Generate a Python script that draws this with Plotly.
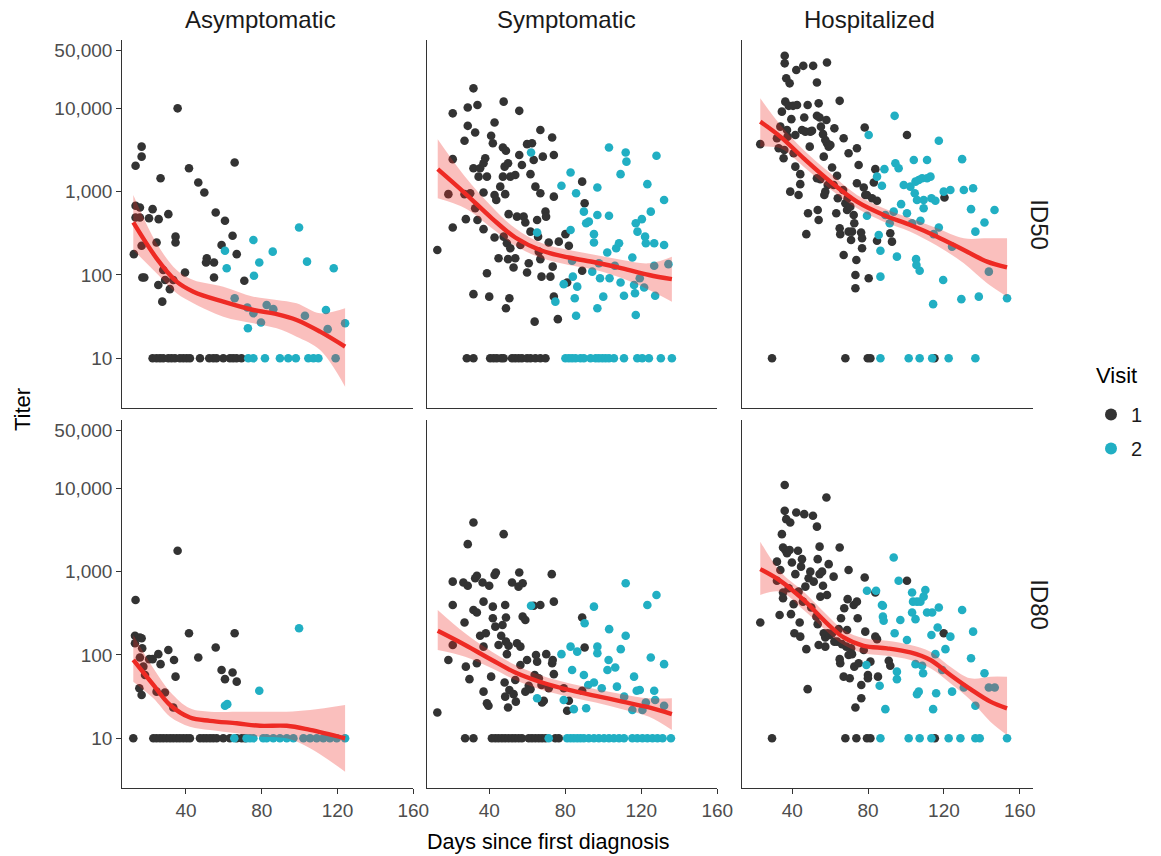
import plotly.graph_objects as go

W, H = 1161, 856
DARK = "#333333"
TEAL = "#21AFC3"
RED = "#EE2A24"
BAND = "rgba(238,42,36,0.30)"
FONT = "Liberation Sans, Arial, sans-serif"

groups = ["Asymptomatic", "Symptomatic", "Hospitalized"]
measures = ["ID50", "ID80"]
visits = ["1", "2"]
legend_title = "Visit"
y_tick_vals = [10, 100, 1000, 10000, 50000]
y_tick_text = ["10", "100", "1,000", "10,000", "50,000"]
x_tick_vals = [40, 80, 120, 160]

# ---------------- data (days, log10 titer) ----------------
# Asymptomatic / ID50
asym50_v1_day = [12.5, 13.4, 13.4, 13.4, 15.7, 16.6, 16.6, 15.7, 16.6, 17, 18, 20.5, 22.4, 24.5, 25.4,
                 25.6, 26.6, 27.5, 28, 29, 30.7, 31.5, 33.3, 34.5, 34.5, 35.6, 39.5, 41.6, 46.5, 49.7,
                 51, 50.6, 54.8, 54.8, 55.7, 60.6, 58.8, 64.6, 65.7, 66.8, 70.8,
                 22.4, 24.5, 26.3, 28, 30.7, 32.4, 34.2, 36.8, 38.6, 40.4, 42.1, 47.4, 52.3, 54.4,
                 56.1, 59.7, 63.2, 64.9, 66.7, 69.3]
asym50_v1_log = [2.25, 3.31, 2.83, 2.69, 2.81, 3.54, 3.42, 2.69, 2.35, 1.97, 1.97, 2.68, 2.79, 2.39, 1.88,
                 2.67, 3.16, 1.68, 2.06, 1.94, 2.73, 1.83, 1.94, 2.46, 2.39, 4.0, 2.03, 3.28, 3.11, 2.99,
                 2.2, 2.15, 2.15, 1.97, 2.75, 2.65, 2.36, 2.47, 3.35, 2.25, 1.93,
                 1, 1, 1, 1, 1, 1, 1, 1, 1, 1, 1, 1, 1, 1, 1, 1, 1, 1, 1, 1]
asym50_v2_day = [60.6, 61.5, 65.7, 72.4, 72.7, 75.6, 75.9, 75.6, 78.7, 79.6, 82.6, 85.8, 86.1, 99.7, 102.8,
                 103.9, 113.9, 114.8, 118, 124,
                 72.9, 75.6, 81.7, 89.6, 94, 98, 104.6, 107.3, 109.9, 119]
asym50_v2_log = [2.29, 2.08, 1.72, 1.61, 1.36, 2.42, 1.99, 1.54, 2.15, 1.43, 1.64, 2.28, 1.59, 2.57, 1.51,
                 2.16, 1.58, 1.35, 2.08, 1.42,
                 1, 1, 1, 1, 1, 1, 1, 1, 1, 1]
asym50_fit_day = [12.2, 24.5, 35.1, 43.9, 59.7, 75.6, 87.9, 98.4, 110.8, 124]
asym50_fit_mid = [2.63, 2.2, 1.92, 1.8, 1.68, 1.58, 1.53, 1.46, 1.32, 1.14]
asym50_fit_hi = [2.96, 2.38, 2.06, 1.94, 1.86, 1.74, 1.7, 1.66, 1.54, 1.6]
asym50_fit_lo = [2.30, 2.02, 1.78, 1.66, 1.5, 1.42, 1.36, 1.26, 1.1, 0.66]

# Symptomatic / ID50
sym50_v1_day = [12.7, 18.5, 20.8, 20.8, 20.8, 27, 27, 27.7, 28.7, 28.7, 30, 31.7, 31.7, 31.7, 32.6,
                32.6, 33.8, 33.8, 34.4, 35.2, 37, 37, 37, 37.9, 38.8, 38.8, 40, 41, 41.9, 42.8,
                42.8, 42.8, 43.7, 44.9, 45.8, 47.2, 47.2, 47.6, 47.6, 48.1, 48.4, 48.8, 48.8, 49.3, 49.9,
                49.9, 50.2, 50.6, 51.1, 51.1, 52.8, 53.7, 53.7, 54.6, 55.8, 55.8, 56.4, 57.2, 58.1, 59,
                59.9, 59.9, 60.8, 61.7, 61.7, 62.5, 63.4, 63.9, 64.3, 65.2, 65.7, 66.1, 66.9, 66.9, 66.9,
                67.5, 68.2, 69.6, 69.9, 71.3, 72.2, 73.1, 73.4, 74, 74, 74, 76.1, 76.6, 80.1, 81,
                81.9, 88.9, 88.9, 90.2,
                28.2, 31.7, 40.5, 42.3, 44.0, 46.3, 47.6, 52, 53.7, 55.5, 57.2, 59.9, 61.7, 64.3, 66.9, 69.6]
sym50_v1_log = [2.3, 2.97, 3.94, 3.39, 2.57, 3.61, 2.97, 2.67, 4.01, 3.79, 2.98, 4.24, 3.28, 1.77, 3.71,
                2.8, 4.04, 2.66, 3.18, 3.28, 3.34, 2.99, 2.55, 3.4, 3.18, 2.02, 1.74, 3.67, 3.58, 3.83,
                2.96, 2.45, 2.9, 2.2, 3.06, 3.53, 3.18, 4.08, 2.46, 3.3, 2.97, 3.49, 1.6, 2.38, 3.34,
                2.19, 2.73, 1.72, 3.18, 2.32, 2.09, 2.2, 3.2, 2.7, 3.97, 3.44, 2.36, 3.32, 2.7, 2.63,
                3.57, 2.03, 2.14, 3.21, 2.52, 3.58, 3.38, 1.44, 3.06, 2.66, 2.46, 2.28, 3.74, 2.98, 2.19,
                1.98, 3.42, 2.76, 2.7, 2.39, 1.98, 3.65, 2.1, 3.44, 2.94, 1.74, 1.47, 2.4, 2.49, 1.91,
                2.35, 3.12, 2.05, 2.86,
                1, 1, 1, 1, 1, 1, 1, 1, 1, 1, 1, 1, 1, 1, 1, 1]
sym50_v2_day = [62, 65.2, 74.8, 78, 79.2, 82.8, 82.8, 83.6, 84, 85, 85.7, 85.7, 86.3, 89.8, 91,
                92.4, 94.2, 95.1, 95.1, 96.9, 96.9, 96.9, 97.7, 98.3, 100, 102.1, 103, 103, 103.3, 106.1,
                106.8, 108.3, 109.1, 109.1, 110.9, 111.8, 112.2, 115.3, 116.2, 116.7, 117.1, 117.1, 118, 119.2, 120.3,
                121.5, 122, 122.4, 123.2, 125, 126.8, 126.8, 127.3, 128, 132, 132, 134.3,
                80.1, 81.9, 83.6, 85.4, 88, 89.8, 93.3, 96, 97.7, 99.5, 101.2, 103, 105.6, 110.9, 117.9,
                120.5, 124, 130.3, 136.1]
sym50_v2_log = [3.47, 2.51, 1.68, 3.07, 1.89, 3.23, 2.54, 2.17, 1.98, 1.72, 2.98, 1.51, 1.86, 2.76, 2.62,
                2.64, 2.04, 2.49, 2.39, 3.05, 2.72, 1.6, 2.14, 1.96, 1.74, 2.27, 3.53, 2.71, 1.96, 2.11,
                2.32, 2.38, 3.21, 1.91, 1.75, 3.47, 3.36, 2.21, 1.88, 1.78, 2.62, 1.52, 2.52, 1.96, 2.67,
                1.85, 2.46, 2.38, 3.09, 2.76, 2.38, 2.11, 1.75, 3.43, 2.9, 2.36, 2.13,
                1, 1, 1, 1, 1, 1, 1, 1, 1, 1, 1, 1, 1, 1, 1, 1, 1, 1, 1]
sym50_fit_day = [12.9, 27.3, 41.4, 53.7, 67.8, 81.9, 96, 110, 124.1, 136.1]
sym50_fit_mid = [3.27, 2.98, 2.68, 2.45, 2.29, 2.21, 2.15, 2.08, 2.0, 1.95]
sym50_fit_hi = [3.63, 3.18, 2.82, 2.56, 2.38, 2.3, 2.24, 2.18, 2.14, 2.22]
sym50_fit_lo = [2.92, 2.8, 2.56, 2.35, 2.2, 2.12, 2.06, 1.96, 1.82, 1.68]

# Hospitalized / ID50
hosp50_v1_day = [23.1, 31.9, 32.8, 33.7, 34.5, 35.4, 35.8, 36, 36, 36.3, 36.8, 37.2, 37.5, 38.1, 38.6,
                 38.9, 39.5, 40.4, 40.7, 41.6, 41.6, 42.1, 42.5, 43.3, 44.2, 44.2, 45.1, 45.8, 46.3, 46.9,
                 47.4, 48.1, 48.3, 49.2, 49.5, 50.4, 51, 53, 53, 53, 53.4, 53.9, 53.9, 54.4, 54.8,
                 55.1, 56.2, 56.6, 56.9, 57.4, 57.4, 58, 58.3, 58.3, 58.7, 59.2, 60.1, 61, 61.8, 62.2,
                 63.2, 63.6, 64, 65, 65, 65.3, 66.8, 67.1, 67.1, 68, 68.9, 69.2, 69.7, 69.7, 70.6,
                 71, 71.5, 72.4, 72.7, 73.3, 73.3, 73.8, 74.1, 74.1, 75, 76.3, 76.8, 76.8, 77.7, 78.2,
                 78.5, 79.4, 80.3, 82.1, 83, 83.8, 84.7, 84.7, 91.7, 92.6, 100.5, 120.3,
                 29.3, 68, 79.8, 81.2, 115]
hosp50_v1_log = [3.57, 3.64, 3.52, 3.78, 3.96, 3.4, 3.5, 4.63, 4.54, 4.08, 4.36, 3.74, 3.66, 4.03, 4.3,
                 3.0, 3.87, 4.03, 3.46, 3.68, 3.3, 4.46, 4.04, 2.96, 3.21, 3.09, 3.74, 4.51, 3.89, 3.72,
                 2.49, 4.04, 2.74, 3.54, 3.72, 3.73, 4.51, 4.31, 3.91, 3.16, 2.78, 4.06, 2.66, 3.89, 3.15,
                 3.78, 3.69, 3.42, 2.96, 3.62, 3.0, 3.86, 4.55, 3.58, 3.08, 3.54, 3.56, 3.29, 3.08, 3.76,
                 2.74, 3.19, 2.92, 2.56, 4.09, 2.49, 3.02, 3.64, 2.24, 2.86, 2.78, 2.92, 3.46, 2.52, 2.82,
                 2.42, 2.52, 2.72, 2.62, 2.0, 1.84, 2.18, 3.52, 3.1, 3.32, 2.51, 2.44, 2.32, 3.05, 3.77,
                 2.96, 2.96, 1.96, 2.92, 3.11, 3.27, 2.89, 2.41, 2.5, 2.4, 3.68, 2.93,
                 1, 1, 1, 1, 1]
hosp50_v2_day = [79.4, 80.3, 84.7, 85.6, 86.5, 86.5, 87.3, 88.6, 89.1, 91.4, 93.5, 94, 94.4, 95.2, 96.1,
                 97.4, 98.8, 100.5, 102.3, 103.2, 104.1, 104.6, 105, 105.3, 105.5, 105.8, 106.7, 107.2, 107.6, 108.5,
                 109.3, 109.3, 111.1, 111.1, 112.9, 113.4, 114.3, 114.6, 115.5, 117.3, 117.3, 119.6, 119.9, 123.4, 124.3,
                 129.2, 129.6, 130.5, 134.3, 135.4, 136.6, 138.4, 141.4, 143.7, 146.7, 153.3,
                 86.5, 101.4, 107.2, 113.8, 122.5, 136.6]
hosp50_v2_log = [2.71, 3.68, 3.18, 2.48, 2.29, 1.98, 3.07, 3.27, 2.72, 2.62, 2.76, 3.91, 3.34, 2.22, 3.28,
                 2.85, 3.08, 2.74, 3.06, 2.62, 3.38, 2.98, 3.12, 2.19, 2.12, 2.9, 3.14, 2.05, 2.65, 3.16,
                 2.9, 2.8, 3.38, 3.16, 3.18, 2.92, 1.65, 2.49, 2.89, 2.57, 3.61, 1.94, 3.0, 3.02, 2.34,
                 1.71, 3.39, 3.02, 2.79, 3.04, 2.52, 1.74, 2.63, 2.04, 2.78, 1.72,
                 1, 1, 1, 1, 1, 1]
hosp50_fit_day = [23.1, 33.7, 46, 60.1, 74.1, 88.2, 102.3, 116.4, 130.5, 142.8, 153.3]
hosp50_fit_mid = [3.84, 3.66, 3.4, 3.12, 2.88, 2.72, 2.6, 2.46, 2.3, 2.16, 2.09]
hosp50_fit_hi = [4.12, 3.8, 3.5, 3.22, 2.96, 2.8, 2.68, 2.56, 2.44, 2.44, 2.44]
hosp50_fit_lo = [3.54, 3.52, 3.3, 3.03, 2.8, 2.64, 2.52, 2.35, 2.14, 1.9, 1.74]

# Asymptomatic / ID80
asym80_v1_day = [13.4, 13.1, 13.1, 15.7, 16.6, 16.9, 15.7, 17.5, 18.4, 15.4, 16.6, 20.6, 22.4, 24.5, 25.4,
                 26.6, 28.9, 30.7, 33.3, 33.7, 34.5, 35.6, 41.6, 46.5, 55.7, 58.8, 60.6, 64.6, 65.7, 66.8,
                 12.2, 22.8, 24.5, 26.3, 28, 29.8, 31.6, 33.3, 35.1, 36.8, 38.6, 40.4, 42.1, 47.4, 49.2,
                 50.9, 52.7, 54.4, 56.2, 59.7, 63.2, 66.8, 69.4, 71.2]
asym80_v1_log = [2.66, 2.23, 2.14, 2.21, 2.2, 2.08, 1.97, 1.86, 1.76, 1.6, 1.52, 1.95, 1.95, 1.56, 2.01,
                 1.89, 1.55, 2.06, 1.37, 1.94, 1.74, 3.25, 2.26, 1.97, 2.09, 1.82, 1.71, 1.79, 2.26, 1.68,
                 1, 1, 1, 1, 1, 1, 1, 1, 1, 1, 1, 1, 1, 1, 1,
                 1, 1, 1, 1, 1, 1, 1, 1, 1]
asym80_v2_day = [60.6, 61.8, 78.7, 99.7,
                 65.5, 72, 73.8, 75.6, 80.8, 82.6, 86.1, 89.6, 93.2, 96.7, 102, 105.5, 109, 112.5, 116,
                 119.6, 124]
asym80_v2_log = [1.39, 1.41, 1.57, 2.32,
                 1, 1, 1, 1, 1, 1, 1, 1, 1, 1, 1, 1, 1, 1, 1, 1, 1]
asym80_fit_day = [12.2, 22.8, 31.6, 42.1, 52.7, 66.8, 79.1, 93.2, 105.5, 124]
asym80_fit_mid = [1.94, 1.64, 1.4, 1.25, 1.21, 1.18, 1.15, 1.15, 1.1, 1.0]
asym80_fit_hi = [2.24, 1.84, 1.56, 1.36, 1.32, 1.32, 1.32, 1.32, 1.34, 1.4]
asym80_fit_lo = [1.68, 1.48, 1.26, 1.14, 1.1, 1.06, 1.02, 1.0, 0.88, 0.6]

# Symptomatic / ID80
sym80_v1_day = [12.7, 18.5, 20.8, 20.8, 20.8, 26.4, 27, 27.7, 28.7, 28.7, 29.6, 31.7, 31.7, 32.6, 33.5,
                33.5, 33.5, 35.2, 36.5, 37, 37, 37, 38.2, 38.8, 39.6, 40, 41, 41.9, 41.9, 42.8,
                43.2, 43.5, 44.9, 46.3, 47, 47.6, 48.1, 48.4, 48.4, 48.8, 48.8, 49.3, 49.9, 50.2, 50.6,
                52, 52.8, 53.7, 54, 54.6, 55.4, 55.8, 56.4, 56.4, 57.6, 57.6, 59, 59, 59.9, 60.8,
                61.7, 63.4, 63.9, 64.6, 65.2, 66.1, 66.9, 67.5, 67.8, 68.7, 70, 71.3, 72.9, 73.1, 73.4,
                74, 74, 79.2, 81, 81.9, 88.9, 90.2, 88.9,
                27.3, 31.7, 41.4, 43.2, 44.9, 46.7, 48.4, 50.2, 52, 53.7, 55.5, 57.2, 60.8, 62.5, 64.3,
                66.1, 67.8, 69.6, 74.8, 76.6]
sym80_v1_log = [1.31, 1.94, 2.88, 2.6, 2.12, 2.87, 2.39, 1.86, 3.33, 2.83, 1.71, 3.59, 2.54, 2.92, 2.95,
                2.51, 1.9, 2.23, 2.87, 2.64, 2.1, 1.56, 2.26, 1.42, 1.39, 2.83, 1.74, 2.58, 2.44, 2.96,
                2.34, 2.99, 2.12, 2.23, 2.36, 3.45, 1.67, 2.6, 1.5, 2.45, 2.16, 2.01, 1.37, 2.11, 1.58,
                2.87, 1.53, 1.7, 1.44, 2.14, 2.82, 2.99, 2.1, 1.88, 2.86, 2.46, 2.42, 1.56, 1.94, 1.63,
                1.59, 2.59, 1.76, 2.0, 1.92, 1.72, 2.6, 1.64, 1.43, 1.45, 2.01, 1.6, 2.97, 1.9, 1.94,
                2.64, 1.77, 1.6, 1.33, 1.45, 2.45, 2.09, 1.57,
                1, 1, 1, 1, 1, 1, 1, 1, 1, 1, 1, 1, 1, 1, 1,
                1, 1, 1, 1, 1]
sym80_v2_day = [62, 65.2, 78, 79.2, 82.8, 83.6, 84.5, 86.3, 89.8, 90.2, 91, 92.1, 95.1, 95.1, 96.9,
                96.9, 99.2, 102.2, 102.8, 103.1, 106.3, 107.2, 109.2, 111, 111.8, 111.8, 115.3, 116.2, 117.6, 119.2,
                120.6, 122.4, 123.2, 125, 126.8, 127.3, 128, 132, 132,
                71.3, 81, 82.8, 84.5, 86.3, 88, 89.8, 92.4, 95.1, 97.7, 100.4, 103, 105.6, 108.3, 110.9,
                115.3, 117.9, 120.6, 123.2, 125.9, 128.5, 131.2, 135.6]
sym80_v2_log = [2.59, 1.48, 2.01, 1.46, 2.1, 1.82, 1.35, 2.04, 1.76, 2.38, 1.36, 1.64, 2.58, 1.67, 2.1,
                2.02, 1.6, 1.82, 1.94, 2.31, 1.85, 1.62, 2.07, 1.5, 2.86, 2.23, 1.34, 1.74, 1.57, 1.58,
                1.34, 1.43, 2.6, 1.97, 1.57, 1.46, 2.72, 1.89, 1.39,
                1, 1, 1, 1, 1, 1, 1, 1, 1, 1, 1, 1, 1, 1, 1,
                1, 1, 1, 1, 1, 1, 1, 1]
sym80_fit_day = [12.9, 27.3, 41.4, 53.7, 67.8, 81.9, 96, 110, 124.1, 136.1]
sym80_fit_mid = [2.29, 2.12, 1.94, 1.79, 1.67, 1.58, 1.51, 1.44, 1.37, 1.29]
sym80_fit_hi = [2.54, 2.26, 2.04, 1.88, 1.75, 1.66, 1.59, 1.53, 1.48, 1.48]
sym80_fit_lo = [2.06, 1.98, 1.84, 1.7, 1.58, 1.5, 1.43, 1.35, 1.26, 1.1]

# Hospitalized / ID80
hosp80_v1_day = [23.1, 31.9, 31.9, 33.3, 33.7, 34.5, 35.1, 35.1, 35.1, 36, 36, 36.3, 36.8, 37.2, 38.1,
                 38.6, 38.9, 39.3, 39.8, 40.7, 41.1, 41.6, 42.1, 43, 43.3, 43.9, 44.2, 44.6, 45.1, 45.6,
                 46.3, 46.9, 47.4, 48.1, 48.6, 49.5, 50, 50.9, 51.3, 52.7, 53, 53.4, 53.4, 53.9, 54.4,
                 54.4, 54.8, 55.7, 56.2, 56.6, 57.4, 57.4, 58, 58.3, 58.7, 59.2, 59.7, 61, 61.8, 62.2,
                 63.6, 64.5, 65, 65, 65.3, 65.7, 66.2, 67.1, 67.4, 68.5, 68.9, 69.2, 69.7, 69.7, 70.3,
                 71, 71.5, 72.4, 72.7, 73.3, 74.1, 74.5, 75, 76.4, 76.4, 77.7, 78.2, 78.5, 79.9, 79.9,
                 81.2, 83.8, 83.8, 84.7, 85.2, 90.9, 91.7, 100.5, 119.9,
                 29.3, 68, 73.8, 79.4, 81.2, 115.2]
hosp80_v1_log = [2.39, 3.12, 2.89, 2.48, 3.02, 3.45, 3.29, 2.75, 2.68, 4.04, 3.73, 3.26, 3.63, 3.22, 2.8,
                 3.26, 3.59, 2.49, 3.11, 2.61, 2.26, 2.97, 3.71, 3.25, 2.76, 2.39, 2.22, 3.06, 3.15, 2.64,
                 3.69, 2.82, 2.07, 1.59, 2.92, 3.0, 2.57, 3.67, 2.88, 2.46, 3.54, 3.15, 2.37, 2.12, 3.3,
                 2.97, 2.7, 3.0, 2.83, 2.26, 2.1, 2.21, 3.89, 2.72, 2.26, 3.09, 2.24, 2.26, 2.94, 2.16,
                 2.16, 2.31, 1.95, 3.29, 1.9, 2.44, 2.13, 1.74, 2.56, 2.1, 2.3, 2.67, 3.02, 2.0, 1.72,
                 2.08, 2.01, 2.6, 1.86, 1.37, 2.64, 2.44, 1.9, 1.48, 1.64, 2.06, 2.93, 2.28, 1.76, 1.72,
                 1.92, 2.75, 2.22, 2.19, 1.74, 1.93, 1.87, 2.89, 2.26,
                 1, 1, 1, 1, 1, 1]
hosp80_v2_day = [79.1, 79.4, 84.2, 86.1, 87.3, 87.8, 87.8, 88.2, 89.1, 93.5, 94, 95.2, 95.2, 96.1, 97,
                 100.5, 103.2, 103.2, 103.7, 105, 105, 105.8, 105.8, 106.7, 107.6, 108.5, 109, 109.3, 110.2, 111.1,
                 113.4, 113.8, 114.3, 115.5, 115.9, 116.7, 117.3, 119.1, 120.8, 123.4, 124.3, 129.6, 130.5, 134.3, 135.4,
                 136.6, 141.4, 143.7, 146.8,
                 86.5, 101.4, 107.2, 113.4, 122.5, 128.7, 136.6, 138.9, 153.3]
hosp80_v2_log = [1.88, 2.77, 2.77, 1.63, 2.6, 2.59, 2.46, 2.41, 1.35, 3.17, 2.26, 1.8, 1.71, 2.89, 2.42,
                 2.18, 2.75, 2.51, 2.64, 2.43, 1.89, 2.64, 1.53, 1.56, 2.64, 1.87, 1.78, 2.7, 2.78, 2.51,
                 2.24, 2.51, 1.35, 2.01, 1.54, 2.33, 2.57, 1.82, 2.07, 2.22, 1.56, 2.54, 1.61, 1.96, 2.28,
                 1.39, 1.78, 1.61, 1.61,
                 1, 1, 1, 1, 1, 1, 1, 1, 1]
hosp80_fit_day = [23.1, 33.7, 46, 58.3, 67.1, 77.7, 90, 102.3, 112.9, 123.4, 134, 144.5, 153.3]
hosp80_fit_mid = [3.03, 2.89, 2.66, 2.38, 2.21, 2.11, 2.08, 2.03, 1.94, 1.76, 1.59, 1.44, 1.36]
hosp80_fit_hi = [3.36, 3.0, 2.76, 2.48, 2.3, 2.2, 2.17, 2.12, 2.04, 1.86, 1.72, 1.74, 1.74]
hosp80_fit_lo = [2.72, 2.76, 2.54, 2.28, 2.12, 2.02, 1.99, 1.94, 1.84, 1.66, 1.46, 1.2, 1.04]

panels = [
    [  # ID50 row
        dict(v1=(asym50_v1_day, asym50_v1_log), v2=(asym50_v2_day, asym50_v2_log),
             fit=(asym50_fit_day, asym50_fit_mid, asym50_fit_lo, asym50_fit_hi)),
        dict(v1=(sym50_v1_day, sym50_v1_log), v2=(sym50_v2_day, sym50_v2_log),
             fit=(sym50_fit_day, sym50_fit_mid, sym50_fit_lo, sym50_fit_hi)),
        dict(v1=(hosp50_v1_day, hosp50_v1_log), v2=(hosp50_v2_day, hosp50_v2_log),
             fit=(hosp50_fit_day, hosp50_fit_mid, hosp50_fit_lo, hosp50_fit_hi)),
    ],
    [  # ID80 row
        dict(v1=(asym80_v1_day, asym80_v1_log), v2=(asym80_v2_day, asym80_v2_log),
             fit=(asym80_fit_day, asym80_fit_mid, asym80_fit_lo, asym80_fit_hi)),
        dict(v1=(sym80_v1_day, sym80_v1_log), v2=(sym80_v2_day, sym80_v2_log),
             fit=(sym80_fit_day, sym80_fit_mid, sym80_fit_lo, sym80_fit_hi)),
        dict(v1=(hosp80_v1_day, hosp80_v1_log), v2=(hosp80_v2_day, hosp80_v2_log),
             fit=(hosp80_fit_day, hosp80_fit_mid, hosp80_fit_lo, hosp80_fit_hi)),
    ],
]

for row in panels:
    for p in row:
        for k in ("v1", "v2"):
            assert len(p[k][0]) == len(p[k][1]), (k, len(p[k][0]), len(p[k][1]))
        assert len(set(len(a) for a in p["fit"])) == 1


def tit(vals):
    return [10 ** v for v in vals]


# ---------------- layout geometry (pixels) ----------------
col_px = [(122.3, 413.3), (426.7, 717.3), (741.7, 1033.0)]
row_px = [(40.0, 408.3), (420.0, 788.3)]
col_xrange = [[6.4, 160.0], [7.1, 160.0], [13.3, 167.0]]
y_log_range = [0.4, 4.82]

fig = go.Figure()
layout = dict(
    width=W, height=H, autosize=False, margin=dict(l=0, r=0, t=0, b=0, autoexpand=False),
    paper_bgcolor="white", plot_bgcolor="white",
    font=dict(family=FONT, color="#1A1A1A"),
    showlegend=True,
)

AX_LINE = "#333333"
for r in range(2):
    for c in range(3):
        k = r * 3 + c + 1
        xa = "x" if k == 1 else f"x{k}"
        ya = "y" if k == 1 else f"y{k}"
        p = panels[r][c]
        for vi, (key, colr) in enumerate((("v1", DARK), ("v2", TEAL))):
            d, lg = p[key]
            fig.add_trace(go.Scatter(
                x=d, y=tit(lg), mode="markers", xaxis=xa, yaxis=ya,
                marker=dict(color=colr, size=8.6, line=dict(width=0)),
                name=visits[vi], legendgroup=visits[vi], showlegend=(k == 1),
                hoverinfo="skip"))
        fd, fm, flo, fhi = p["fit"]
        fig.add_trace(go.Scatter(
            x=fd, y=tit(flo), mode="lines", xaxis=xa, yaxis=ya,
            line=dict(width=0, shape="spline", color=BAND), showlegend=False, hoverinfo="skip"))
        fig.add_trace(go.Scatter(
            x=fd, y=tit(fhi), mode="lines", xaxis=xa, yaxis=ya, fill="tonexty", fillcolor=BAND,
            line=dict(width=0, shape="spline", color=BAND), showlegend=False, hoverinfo="skip"))
        fig.add_trace(go.Scatter(
            x=fd, y=tit(fm), mode="lines", xaxis=xa, yaxis=ya,
            line=dict(width=4.4, shape="spline", color=RED), showlegend=False, hoverinfo="skip"))

        x0, x1 = col_px[c]
        y0, y1 = row_px[r]
        layout["xaxis" if k == 1 else f"xaxis{k}"] = dict(
            domain=[x0 / W, x1 / W], anchor=ya, range=col_xrange[c],
            showgrid=False, zeroline=False, showline=True, linecolor=AX_LINE, linewidth=1.1,
            ticks="outside" if r == 1 else "", ticklen=5, tickwidth=1.1, tickcolor=AX_LINE,
            tickvals=x_tick_vals, showticklabels=(r == 1),
            tickfont=dict(family=FONT, size=19, color="#4D4D4D"))
        layout["yaxis" if k == 1 else f"yaxis{k}"] = dict(
            domain=[1 - y1 / H, 1 - y0 / H], anchor=xa, type="log", range=y_log_range,
            showgrid=False, zeroline=False, showline=True, linecolor=AX_LINE, linewidth=1.1,
            ticks="outside" if c == 0 else "", ticklen=5, tickwidth=1.1, tickcolor=AX_LINE,
            tickvals=y_tick_vals, ticktext=y_tick_text, showticklabels=(c == 0),
            tickfont=dict(family=FONT, size=19, color="#4D4D4D"))

ann = []
strip_x = [260, 566, 869]
for c, g in enumerate(groups):
    ann.append(dict(text=g, x=strip_x[c] / W, y=1 - 20 / H, xref="paper", yref="paper",
                    xanchor="center", yanchor="middle", showarrow=False,
                    font=dict(family=FONT, size=24, color="#1A1A1A")))
for r, m in enumerate(measures):
    yc = (row_px[r][0] + row_px[r][1]) / 2
    ann.append(dict(text=m, x=1040 / W, y=1 - yc / H, xref="paper", yref="paper",
                    xanchor="center", yanchor="middle", showarrow=False, textangle=90,
                    font=dict(family=FONT, size=24, color="#1A1A1A")))
ann.append(dict(text="Titer", x=22 / W, y=1 - 410 / H, xref="paper", yref="paper",
                xanchor="center", yanchor="middle", showarrow=False, textangle=-90,
                font=dict(family=FONT, size=22, color="#000000")))
ann.append(dict(text="Days since first diagnosis", x=548 / W, y=1 - 842 / H, xref="paper", yref="paper",
                xanchor="center", yanchor="middle", showarrow=False, borderpad=0,
                font=dict(family=FONT, size=21.5, color="#000000")))
ann.append(dict(text=legend_title, x=1094 / W, y=1 - 375 / H, xref="paper", yref="paper",
                xanchor="left", yanchor="middle", showarrow=False,
                font=dict(family=FONT, size=22, color="#000000")))
layout["annotations"] = ann
layout["legend"] = dict(
    font=dict(family=FONT, size=20, color="#1A1A1A"),
    x=1091 / W, y=1 - 395 / H, xanchor="left", yanchor="top",
    bgcolor="rgba(0,0,0,0)", itemsizing="constant", tracegroupgap=5)

fig.update_layout(**layout)
fig.write_html("out.html", config={"displayModeBar": False, "responsive": False},
               post_script="document.body.style.margin='0';document.body.style.overflow='hidden';")
